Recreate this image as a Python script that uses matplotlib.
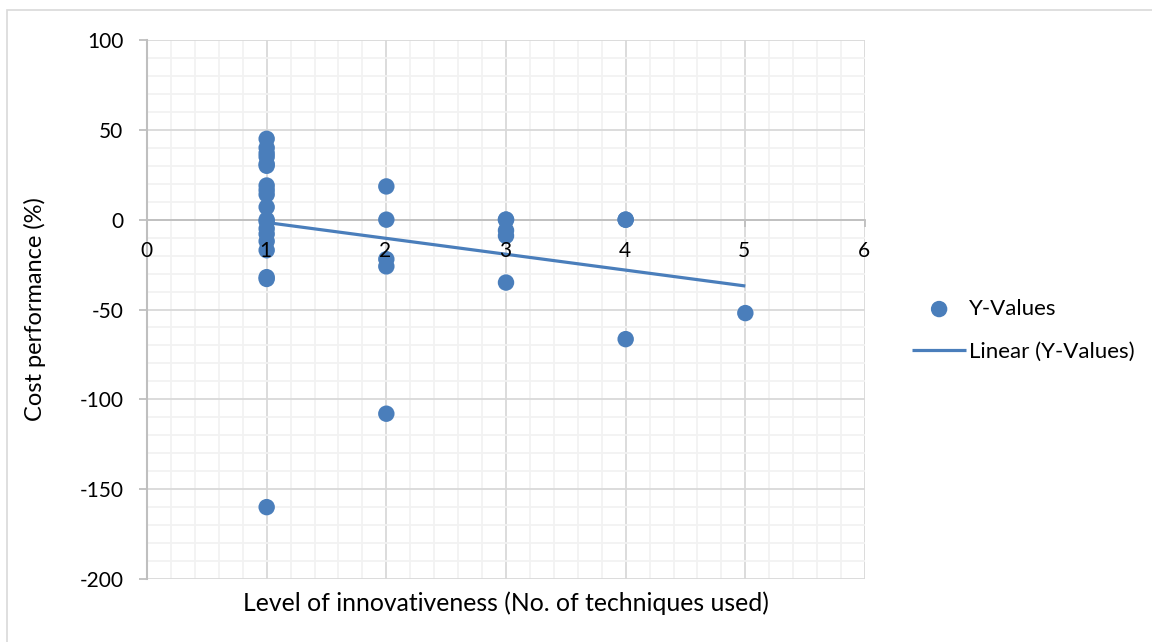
import numpy as np
import matplotlib
matplotlib.use("Agg")
import matplotlib.pyplot as plt
from matplotlib.patches import Rectangle
from matplotlib.ticker import MultipleLocator

plt.rcParams['font.family'] = ['Lato', 'DejaVu Sans']
plt.rcParams['axes.unicode_minus'] = False

# Number of innovative techniques used per project
techniques = [1] * 19 + [2] * 5 + [3] * 5 + [4] * 3 + [5]
# Cost performance (%) for each project, same order
cost_perf = [45, 40, 37, 35, 31, 30, 19, 16.5, 14, 7, 0, -1, -5, -8, -12, -17, -32, -33, -160,
             18.5, 0, -22, -26, -108,
             0, 0, -6, -9, -35,
             0, 0, -66.5,
             -52]

x_ticks = [0, 1, 2, 3, 4, 5, 6]
y_ticks = [100, 50, 0, -50, -100, -150, -200]

x = np.array(techniques, dtype=float)
y = np.array(cost_perf, dtype=float)

W, H = 1152, 642
fig = plt.figure(figsize=(W / 100, H / 100), dpi=100)
fig.patch.set_facecolor('white')
fig.patches.append(Rectangle((7 / W, -0.1), 1.2, 1 - 10 / H + 0.1, transform=fig.transFigure,
                             fill=False, edgecolor='#d9d9d9', linewidth=1.2))

ax = fig.add_axes([147 / W, 1 - 579 / H, (865 - 147) / W, (579 - 40) / H])
blue = '#4a7ebb'

ax.set_xlim(0, 6)
ax.set_ylim(-200, 100)
ax.xaxis.set_minor_locator(MultipleLocator(0.2))
ax.yaxis.set_minor_locator(MultipleLocator(10))
ax.set_xticks(x_ticks)
ax.set_yticks(y_ticks)

ax.grid(which='minor', color='#f2f2f2', linewidth=1.3, zorder=0)
ax.grid(which='major', color='#d9d9d9', linewidth=1.3, zorder=0)
ax.set_axisbelow(True)

for s in ['top', 'right']:
    ax.spines[s].set_visible(False)
ax.spines['left'].set_color('#bfbfbf')
ax.spines['left'].set_linewidth(1.5)
ax.spines['bottom'].set_position(('data', 0))
ax.spines['bottom'].set_color('#bfbfbf')
ax.spines['bottom'].set_linewidth(1.3)

ax.tick_params(axis='y', which='major', direction='out', length=6, width=1.3,
               color='#bfbfbf', pad=11, labelsize=15, labelcolor='black')
ax.tick_params(axis='x', which='major', direction='out', length=5, width=1.3,
               color='#bfbfbf', labelbottom=False)
ax.tick_params(which='minor', length=0)

# Data points
ax.scatter(x, y, s=140, color=blue, edgecolors='none', zorder=3, label='Y-Values')

# Least-squares linear trend over the observed range
slope, intercept = np.polyfit(x, y, 1)
xt = np.array([x.min(), x.max()])
ax.plot(xt, slope * xt + intercept, color=blue, linewidth=2.3, zorder=4,
        label='Linear (Y-Values)', solid_capstyle='butt')

# Category numbers sit below the zero line, drawn on top of the markers
for xv in x_ticks:
    ax.annotate(str(xv), xy=(xv, 0), xytext=(-1, -31), textcoords='offset pixels',
                ha='center', va='center', fontsize=15, color='black', zorder=10,
                annotation_clip=False)

ax.set_xlabel('Level of innovativeness (No. of techniques used)', fontsize=17.8, labelpad=0)
ax.xaxis.set_label_coords(0.5, -0.023)
ax.set_ylabel('Cost performance (%)', fontsize=17)
ax.yaxis.set_label_coords(-0.141, 0.5)

leg = fig.legend(loc='upper left', bbox_to_anchor=(903 / W, 1 - 290 / H), frameon=False,
                 fontsize=16, handlelength=2.45, handletextpad=0.12, labelspacing=1.05,
                 markerscale=1.0, borderaxespad=0)

fig.savefig('out.png', dpi=100, facecolor='white')
